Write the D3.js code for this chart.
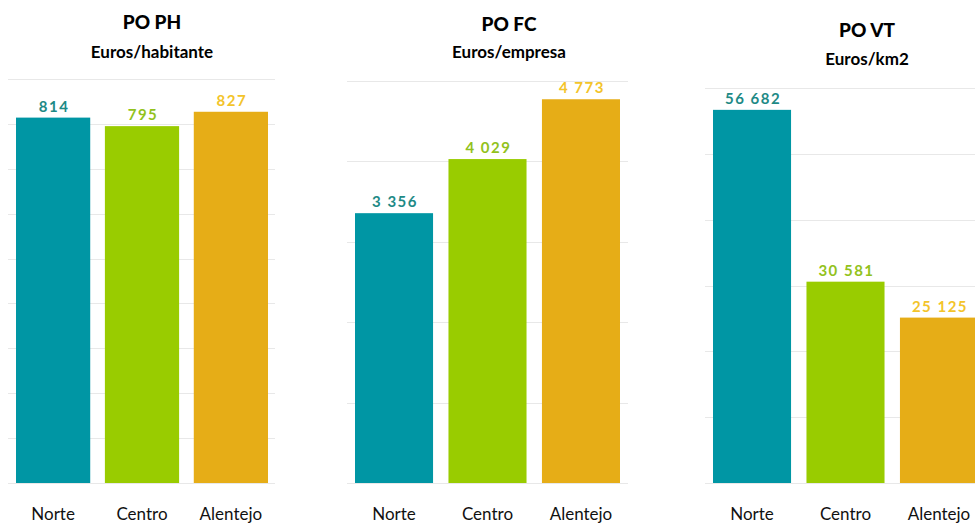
<!DOCTYPE html>
<html><head><meta charset="utf-8">
<script src="https://cdn.jsdelivr.net/npm/d3@7"></script>
<style>body{margin:0;background:#fff;overflow:hidden}svg{display:block}</style>
</head><body>
<svg id="c" width="975" height="523"></svg>
<script>
const categories = ["Norte", "Centro", "Alentejo"];
const titles = ["PO PH", "PO FC", "PO VT"];
const subtitles = ["Euros/habitante", "Euros/empresa", "Euros/km2"];
const valuesPH = [814, 795, 827];
const valuesFC = [3356, 4029, 4773];
const valuesVT = [56682, 30581, 25125];
const gridMax = [900, 5000, 60000];
const gridStep = [100, 1000, 10000];

const barColors = ["#0096A4", "#99CC00", "#E6AD17"];
const labelColors = ["#1E8A86", "#92C21C", "#F3C42A"];

const panels = [
  {title: titles[0], sub: subtitles[0], values: valuesPH, max: gridMax[0], step: gridStep[0],
   bars: [16, 268], grid: [8, 275], top: 79, cx: 152, ty: 29, sy: 58},
  {title: titles[1], sub: subtitles[1], values: valuesFC, max: gridMax[1], step: gridStep[1],
   bars: [355, 620], grid: [347, 628], top: 81, cx: 509, ty: 31, sy: 58},
  {title: titles[2], sub: subtitles[2], values: valuesVT, max: gridMax[2], step: gridStep[2],
   bars: [713, 978], grid: [705, 1000], top: 88, cx: 867, ty: 37, sy: 65}
];
const base = 483;
const fmt = d3.formatLocale({decimal: ",", thousands: " ", grouping: [3], currency: ["", "€"]}).format(",d");
const font = "Lato, 'Open Sans', sans-serif";
const svg = d3.select("#c");

panels.forEach(p => {
  const g = svg.append("g");
  const x = d3.scaleBand().domain(categories).range(p.bars).paddingInner(0.165).paddingOuter(0);
  const y = d3.scaleLinear().domain([0, p.max]).range([base, p.top]);
  const ticks = d3.range(0, p.max + p.step / 2, p.step);
  g.selectAll("line.grid").data(ticks).join("line")
    .attr("x1", p.grid[0]).attr("x2", p.grid[1])
    .attr("y1", d => Math.round(y(d)) + 0.5).attr("y2", d => Math.round(y(d)) + 0.5)
    .attr("stroke", "#E8E8E8").attr("stroke-width", 1);
  g.selectAll("rect").data(p.values).join("rect")
    .attr("x", (d, i) => x(categories[i]))
    .attr("width", x.bandwidth())
    .attr("y", d => y(d))
    .attr("height", d => base - y(d))
    .attr("fill", (d, i) => barColors[i]);
  g.selectAll("text.val").data(p.values).join("text")
    .attr("x", (d, i) => x(categories[i]) + x.bandwidth() / 2 + 1)
    .attr("y", d => y(d) - 6)
    .attr("text-anchor", "middle")
    .attr("font-family", font).attr("font-weight", 700).attr("font-size", 15)
    .attr("letter-spacing", 1.5)
    .attr("fill", (d, i) => labelColors[i])
    .text(d => fmt(d));
  g.selectAll("text.cat").data(categories).join("text")
    .attr("x", d => x(d) + x.bandwidth() / 2)
    .attr("y", 520)
    .attr("text-anchor", "middle")
    .attr("font-family", font).attr("font-size", 17)
    .attr("fill", "#111")
    .text(d => d);
  g.append("text").attr("x", p.cx).attr("y", p.ty).attr("text-anchor", "middle")
    .attr("font-family", font).attr("font-weight", 900).attr("font-size", 19)
    .attr("fill", "#000").text(p.title);
  g.append("text").attr("x", p.cx).attr("y", p.sy).attr("text-anchor", "middle")
    .attr("font-family", font).attr("font-weight", 700).attr("font-size", 17)
    .attr("fill", "#000").text(p.sub);
});
</script>
</body></html>
